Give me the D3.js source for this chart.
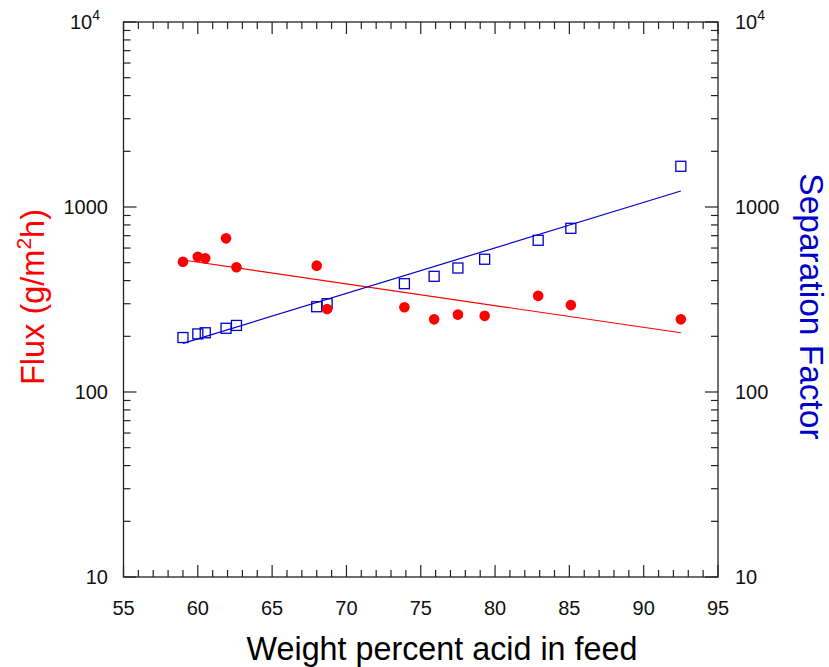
<!DOCTYPE html>
<html><head><meta charset="utf-8">
<script src="https://cdn.jsdelivr.net/npm/d3@7"></script>
<style>body{margin:0;background:#fff}svg{display:block}text{font-family:"Liberation Sans",Arial,sans-serif}</style>
</head><body><svg id="c" width="829" height="667"></svg>
<script>
// Data
const fluxX = [59.0, 60.0, 60.5, 61.9, 62.6, 68.0, 68.7, 73.9, 75.9, 77.5, 79.3, 82.9, 85.1, 92.5];
const fluxY = [506, 538, 528, 677, 472, 482, 281, 287, 247, 262, 258, 331, 295, 247];
const sepX  = [59.0, 60.0, 60.5, 61.9, 62.6, 68.0, 68.7, 73.9, 75.9, 77.5, 79.3, 82.9, 85.1, 92.5];
const sepY  = [197, 206, 209, 221, 229, 289, 300, 385, 422, 468, 522, 661, 767, 1660];
const fitX = [59.0, 92.5];
const fluxFit = [517, 209];
const sepFit = [183, 1221];
const xTicks = [55, 60, 65, 70, 75, 80, 85, 90, 95];
const yTicks = [10, 100, 1000, 10000];
const yTickLabels = ["10", "100", "1000", "10^4"];

const svg = d3.select("#c");
const L = 123.5, R = 718, T = 22, B = 577;
const x = d3.scaleLinear().domain([55, 95]).range([L, R]);
const y = d3.scaleLog().domain([10, 10000]).range([B, T]);
const axisCol = "#222";

// frame
svg.append("rect").attr("x", L).attr("y", T).attr("width", R - L).attr("height", B - T)
  .attr("fill", "none").attr("stroke", axisCol).attr("stroke-width", 1.3);

// x ticks (minor every 1)
const xMinor = d3.range(56, 95, 1).filter(v => v % 5 !== 0);
function xtick(v, len) {
  svg.append("line").attr("x1", x(v)).attr("x2", x(v)).attr("y1", B).attr("y2", B - len).attr("stroke", axisCol).attr("stroke-width", 1.2);
  svg.append("line").attr("x1", x(v)).attr("x2", x(v)).attr("y1", T).attr("y2", T + len).attr("stroke", axisCol).attr("stroke-width", 1.2);
}
xMinor.forEach(v => xtick(v, 7));
xTicks.forEach(v => xtick(v, 12));
svg.selectAll(".xl").data(xTicks).enter().append("text")
  .attr("x", d => x(d)).attr("y", B + 38).attr("text-anchor", "middle")
  .attr("font-size", 20).attr("fill", "#111").text(d => d);

// y ticks
const yMinor = [];
[10, 100, 1000].forEach(d => { for (let k = 2; k <= 9; k++) yMinor.push(d * k); });
function ytick(v, len) {
  svg.append("line").attr("x1", L).attr("x2", L + len).attr("y1", y(v)).attr("y2", y(v)).attr("stroke", axisCol).attr("stroke-width", 1.2);
  svg.append("line").attr("x1", R).attr("x2", R - len).attr("y1", y(v)).attr("y2", y(v)).attr("stroke", axisCol).attr("stroke-width", 1.2);
}
yMinor.forEach(v => ytick(v, 7));
yTicks.forEach(v => ytick(v, 13));

function yLabel(v, lab, xp, anchor) {
  const t = svg.append("text").attr("x", xp).attr("y", y(v) + 7).attr("text-anchor", anchor)
    .attr("font-size", 20).attr("fill", "#111");
  if (lab.indexOf("^") >= 0) {
    const [b, e] = lab.split("^");
    t.append("tspan").text(b);
    t.append("tspan").attr("font-size", 14).attr("dy", -9).text(e);
  } else t.text(lab);
}
yTicks.forEach((v, i) => {
  yLabel(v, yTickLabels[i], yTickLabels[i].indexOf("^") >= 0 ? 108 - 8 : 108, "end");
  yLabel(v, yTickLabels[i], 735, "start");
});

// fit lines
const line = d3.line().x(d => x(d[0])).y(d => y(d[1]));
svg.append("path").datum(fitX.map((v, i) => [v, fluxFit[i]])).attr("d", line)
  .attr("fill", "none").attr("stroke", "#ff0000").attr("stroke-width", 1.2);
svg.append("path").datum(fitX.map((v, i) => [v, sepFit[i]])).attr("d", line)
  .attr("fill", "none").attr("stroke", "#0000cc").attr("stroke-width", 1.2);

// points
svg.selectAll(".sq").data(sepX.map((v, i) => [v, sepY[i]])).enter().append("rect")
  .attr("x", d => x(d[0]) - 5).attr("y", d => y(d[1]) - 5).attr("width", 10).attr("height", 10)
  .attr("fill", "none").attr("stroke", "#0000cc").attr("stroke-width", 1.3);
svg.selectAll(".ci").data(fluxX.map((v, i) => [v, fluxY[i]])).enter().append("circle")
  .attr("cx", d => x(d[0])).attr("cy", d => y(d[1])).attr("r", 5.3).attr("fill", "#ff0000");

// axis titles
svg.append("text").attr("x", 442).attr("y", 660).attr("text-anchor", "middle")
  .attr("font-size", 32.3).attr("fill", "#000").text("Weight percent acid in feed");
const ft = svg.append("text").attr("transform", "translate(44,297) rotate(-90)").attr("text-anchor", "middle")
  .attr("font-size", 32.5).attr("fill", "#ff0000");
ft.append("tspan").text("Flux (g/m");
ft.append("tspan").attr("font-size", 21).attr("dy", -13).text("2");
ft.append("tspan").attr("dy", 13).text("h)");
svg.append("text").attr("transform", "translate(800,306.5) rotate(90)").attr("text-anchor", "middle")
  .attr("font-size", 33.5).attr("fill", "#0000cc").text("Separation Factor");
</script></body></html>
